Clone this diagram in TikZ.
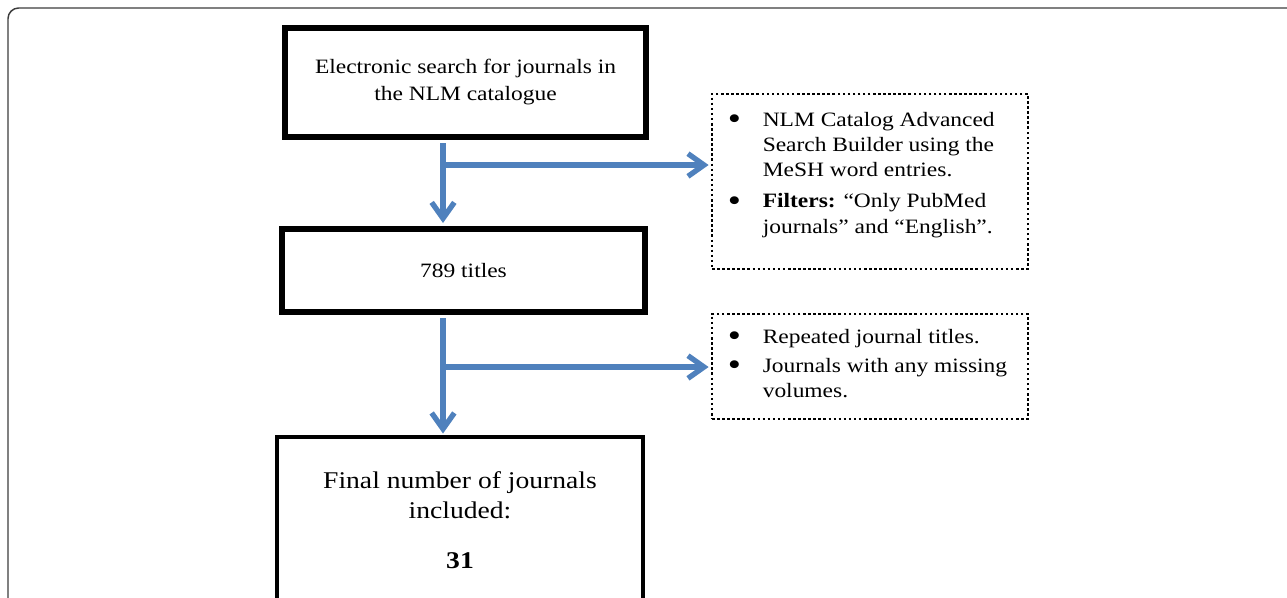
\documentclass[tikz,border=0pt]{standalone}
\usepackage{fontspec}
\setmainfont{Liberation Serif}[FakeStretch=1.15]
\usetikzlibrary{arrows.meta}
\definecolor{arrblue}{RGB}{79,129,189}
\definecolor{framegray}{RGB}{60,60,60}
\newcommand{\bigbul}{\raisebox{-0.17em}{\scalebox{1.6}{\textbullet}}}
\begin{document}
\begin{tikzpicture}[x=0.75pt,y=-0.75pt,
  solidbox/.style={draw=black, line width=4.5pt, rectangle, align=center, inner sep=0pt},
  dotbox/.style={draw=black, line width=2.1pt, dash pattern=on 1.9pt off 1.9pt, rectangle, inner sep=0pt},
  listtext/.style={anchor=base west, inner sep=0pt, font=\fontsize{15.3}{19.1}\selectfont},
  flow/.style={draw=arrblue, line width=4pt, -{Straight Barb[length=12pt,width=17pt]}}
  ]
\useasboundingbox (0,0) rectangle (1287,597);
\clip (0,0) rectangle (1287,597);
\draw[line width=1.1pt, draw=framegray, rounded corners=8pt] (8,8) rectangle (1320,640);

\node[solidbox, minimum width=270.75pt, minimum height=81.75pt, font=\fontsize{15.3}{20.25}\selectfont] (b1) at (465.5,82.5) {Electronic search for journals in\\the NLM catalogue};
\node[solidbox, minimum width=272.25pt, minimum height=62.25pt, font=\fontsize{15.3}{20.25}\selectfont] (b2) at (463.5,270.5) {789 titles};
\node[solidbox, line width=2.6pt, minimum width=274.5pt, minimum height=124.5pt, font=\fontsize{18}{22.5}\selectfont] (b3) at (460,520) {Final number of journals\\included:\\[15pt]\textbf{31}};

\node[dotbox, minimum width=237pt, minimum height=131.25pt] (d1) at (870,181.5) {};
\node[dotbox, minimum width=237pt, minimum height=78.75pt] (d2) at (870,366.5) {};

\node[listtext] (l1) at (727.5,126) {\begin{tabular}[t]{@{}p{26.25pt}@{}l@{}}
\bigbul & NLM Catalog Advanced\\
 & Search Builder using the\\
 & MeSH word entries.\\[4pt]
\bigbul & \textbf{Filters:} “Only PubMed\\
 & journals” and “English”.
\end{tabular}};
\node[listtext] (l2) at (727.5,343) {\begin{tabular}[t]{@{}p{26.25pt}@{}l@{}}
\bigbul & Repeated journal titles.\\[3pt]
\bigbul & Journals with any missing\\
 & volumes.
\end{tabular}};

\coordinate (j1) at (443,165);
\coordinate (j2) at (443,367);
\draw[flow, shorten <=2.25pt, shorten >=2.25pt] (b1.south -| j1) -- (b2.north -| j1);
\draw[flow, shorten >=1.5pt] (j1) -- (d1.west |- j1);
\draw[flow, shorten <=2.25pt, shorten >=1.3pt] (b2.south -| j2) -- (b3.north -| j2);
\draw[flow, shorten >=1.5pt] (j2) -- (d2.west |- j2);
\end{tikzpicture}
\end{document}
